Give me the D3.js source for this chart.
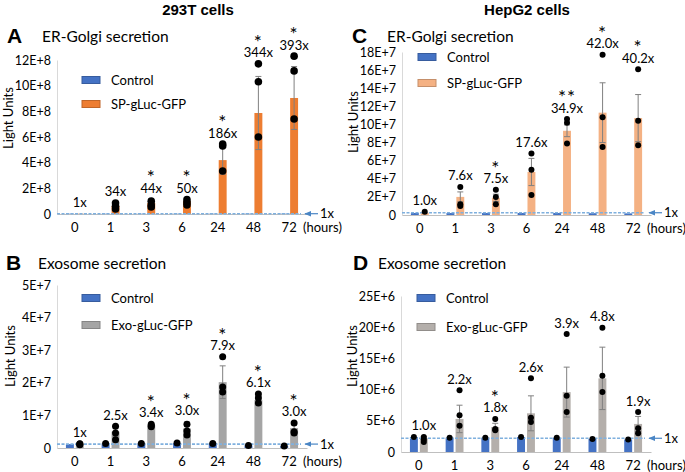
<!DOCTYPE html>
<html>
<head>
<meta charset="utf-8">
<script src="https://cdn.jsdelivr.net/npm/d3@7"></script>
<style>
  body { margin: 0; background: #fff; }
  text { font-family: Lato, "Open Sans", sans-serif; fill: #000; }
</style>
</head>
<body>
<svg id="chart" width="685" height="472"></svg>
<script>
const hours = ['0', '1', '3', '6', '24', '48', '72'];

// A: 293T, ER-Golgi secretion (units of 1E+8)
const ticksA = [0, 2, 4, 6, 8, 10, 12];
const tickLabelsA = ['0', '2E+8', '4E+8', '6E+8', '8E+8', '10E+8', '12E+8'];
const ctrlA = [0.023, 0.02, 0.02, 0.02, 0.022, 0.023, 0.023];
const expA = [0.023, 0.62, 0.86, 1.0, 4.2, 7.87, 9.04];
const errA = [0, 0.2, 0.3, 0.15, 1.1, 2.85, 2.45];
const dotsA = [[], [0.86, 0.61, 0.39], [1.0, 0.7, 0.55], [1.12, 0.9, 0.7], [5.45, 5.3, 3.35], [11.7, 10.3, 6.0], [12.3, 11.15, 7.4]];
const ctrlDotsA = [[], [], [], [], [], [], []];
const foldA = ['1x', '34x', '44x', '50x', '186x', '344x', '393x'];
const starsA = ['', '', '*', '*', '*', '*', '*'];

// B: 293T, exosome secretion (units of 1E+7)
const ticksB = [0, 1, 2, 3, 4, 5];
const tickLabelsB = ['0', '1E+7', '2E+7', '3E+7', '4E+7', '5E+7'];
const ctrlB = [0.12, 0.14, 0.14, 0.15, 0.14, 0.08, 0.06];
const expB = [0.12, 0.5, 0.7, 0.6, 2.02, 1.47, 0.61];
const errB = [0.03, 0.15, 0.05, 0.2, 0.5, 0.1, 0.15];
const dotsB = [[0.13, 0.12, 0.1], [0.67, 0.46, 0.25], [0.73, 0.65, 0.68], [0.73, 0.52, 0.4], [2.8, 1.87, 1.72], [1.66, 1.53, 1.38], [0.77, 0.46, 0.5]];
const ctrlDotsB = [[], [0.14], [0.14], [0.15], [0.14], [0.08], [0.06]];
const foldB = ['1x', '2.5x', '3.4x', '3.0x', '7.9x', '6.1x', '3.0x'];
const starsB = ['', '', '*', '*', '*', '*', '*'];

// C: HepG2, ER-Golgi secretion (units of 1E+7)
const ticksC = [0, 2, 4, 6, 8, 10, 12, 14, 16, 18];
const tickLabelsC = ['0', '2E+7', '4E+7', '6E+7', '8E+7', '10E+7', '12E+7', '14E+7', '16E+7', '18E+7'];
const ctrlC = [0.22, 0.22, 0.22, 0.22, 0.22, 0.2, 0.18];
const expC = [0.25, 2.0, 1.9, 4.75, 9.3, 11.3, 10.7];
const errC = [0, 0.55, 0.4, 1.5, 0.65, 3.3, 2.6];
const dotsC = [[0.35], [3.1, 1.2, 1.0], [2.8, 2.0, 1.2], [6.8, 5.0, 2.2], [10.6, 10.2, 7.9], [17.7, 10.8, 7.5], [16.1, 10.4, 7.7]];
const ctrlDotsC = [[], [], [], [], [], [], []];
const foldC = ['1.0x', '7.6x', '7.5x', '17.6x', '34.9x', '42.0x', '40.2x'];
const starsC = ['', '', '*', '', '**', '*', '*'];

// D: HepG2, exosome secretion (units of 1E+6)
const ticksD = [0, 5, 10, 15, 20, 25];
const tickLabelsD = ['0', '5E+6', '10E+6', '15E+6', '20E+6', '25E+6'];
const ctrlD = [2.4, 2.3, 2.3, 2.4, 2.3, 2.1, 2.0];
const expD = [2.2, 5.3, 4.0, 6.2, 9.6, 11.8, 4.5];
const errD = [0.3, 2.2, 0.6, 2.8, 4.0, 5.0, 1.2];
const dotsD = [[2.4, 1.6, 2.0], [9.9, 5.9, 4.2], [5.3, 3.7, 3.5], [11.8, 5.5, 4.8], [18.9, 9.0, 6.4], [19.9, 12.2, 9.6], [6.4, 3.8, 3.0]];
const ctrlDotsD = [[2.4], [2.3], [2.3], [2.4], [2.3], [2.1], [2.0]];
const foldD = ['1.0x', '2.2x', '1.8x', '2.6x', '3.9x', '4.8x', '1.9x'];
const starsD = ['', '', '*', '', '', '', ''];

const svg = d3.select('#chart');

// left-pointing arrow head for the "1x" pointer
svg.append('defs').append('marker')
  .attr('id', 'arrow')
  .attr('viewBox', '0 0 10 10')
  .attr('refX', 9).attr('refY', 5)
  .attr('markerUnits', 'userSpaceOnUse')
  .attr('markerWidth', 7).attr('markerHeight', 7)
  .attr('orient', 'auto')
  .append('path')
  .attr('d', 'M0,1 L10,5 L0,9 Z')
  .attr('fill', '#4a86c5');

// cell line headers
svg.append('text').attr('x', 198).attr('y', 15).attr('text-anchor', 'middle')
  .style('font-family', '"Liberation Sans", Arial, sans-serif')
  .attr('font-weight', 'bold').attr('font-size', 15).text('293T cells');
svg.append('text').attr('x', 527).attr('y', 15).attr('text-anchor', 'middle')
  .style('font-family', '"Liberation Sans", Arial, sans-serif')
  .attr('font-weight', 'bold').attr('font-size', 15).text('HepG2 cells');

const panel = (p) => {
  const g = svg.append('g');

  const x = d3.scaleBand().domain(hours).range([p.x0, p.x1]);
  const sub = d3.scaleBand()
    .domain(['ctrl', 'exp'])
    .range([0, x.bandwidth()])
    .paddingInner(0.2)
    .paddingOuter(0.9);
  const y = d3.scaleLinear().domain([0, p.yMax]).range([p.yBase, p.yTop]);

  // header
  g.append('text').attr('x', p.letterX).attr('y', p.headY)
    .style('font-family', '"Liberation Sans", Arial, sans-serif')
    .attr('font-weight', 'bold').attr('font-size', 21).text(p.letter);
  g.append('text').attr('x', p.titleX).attr('y', p.headY - 1)
    .attr('font-size', 15.5).text(p.title);

  // axes
  const yAxisG = g.append('g')
    .attr('transform', `translate(${p.x0},0)`)
    .call(d3.axisLeft(y).tickValues(p.ticks)
      .tickFormat((d, i) => p.tickLabels[i])
      .tickSize(0).tickPadding(6));
  yAxisG.attr('font-family', null).attr('font-size', null);
  yAxisG.select('.domain').attr('stroke', '#d9d9d9');
  yAxisG.selectAll('text').attr('font-size', 12.5).attr('fill', '#000');

  const xAxisG = g.append('g')
    .attr('transform', `translate(0,${p.yBase})`)
    .call(d3.axisBottom(x).tickSize(0).tickPadding(9));
  xAxisG.attr('font-family', null).attr('font-size', null);
  xAxisG.select('.domain').attr('stroke', '#bfbfbf');
  xAxisG.selectAll('text').attr('font-size', 13).attr('fill', '#000');
  xAxisG.append('text')
    .attr('x', p.x1 - 4).attr('y', 9).attr('dy', '0.71em')
    .attr('text-anchor', 'start').attr('font-size', 13).text('(hours)');

  g.append('text')
    .attr('transform', `translate(${p.labelX},${p.labelY}) rotate(-90)`)
    .attr('text-anchor', 'middle').attr('dy', '0.35em')
    .attr('font-size', 13).text('Light Units');

  // bars
  const cx = (h, k) => x(h) + sub(k) + sub.bandwidth() / 2;
  g.append('g').selectAll('rect').data(p.ctrl).join('rect')
    .attr('x', (d, i) => x(hours[i]) + sub('ctrl'))
    .attr('y', (d) => y(d))
    .attr('width', sub.bandwidth())
    .attr('height', (d) => p.yBase - y(d))
    .attr('fill', p.ctrlColor);
  g.append('g').selectAll('rect').data(p.exp).join('rect')
    .attr('x', (d, i) => x(hours[i]) + sub('exp'))
    .attr('y', (d) => y(d))
    .attr('width', sub.bandwidth())
    .attr('height', (d) => p.yBase - y(d))
    .attr('fill', p.expColor);

  // error bars
  const eb = g.append('g').attr('stroke', '#808080').attr('stroke-width', 1);
  p.exp.forEach((m, i) => {
    if (!p.err[i]) return;
    const c = cx(hours[i], 'exp');
    const t = y(m + p.err[i]);
    const b = y(Math.max(0, m - p.err[i]));
    eb.append('line').attr('x1', c).attr('x2', c).attr('y1', t).attr('y2', b);
    eb.append('line').attr('x1', c - 3).attr('x2', c + 3).attr('y1', t).attr('y2', t);
    eb.append('line').attr('x1', c - 3).attr('x2', c + 3).attr('y1', b).attr('y2', b);
  });

  // 1x reference line
  const oneY = y(p.exp[0]);
  g.append('line')
    .attr('x1', p.x0).attr('x2', p.x1 - 6)
    .attr('y1', oneY).attr('y2', oneY)
    .attr('stroke', '#7fb0de').attr('stroke-width', 1.6)
    .attr('stroke-dasharray', '3,1.5');
  g.append('line')
    .attr('x1', p.x1 + 11).attr('x2', p.x1 - 2)
    .attr('y1', oneY).attr('y2', oneY)
    .attr('stroke', '#4a86c5').attr('stroke-width', 1.2)
    .attr('marker-end', 'url(#arrow)');
  g.append('text').attr('x', p.x1 + 13).attr('y', oneY).attr('dy', '0.35em')
    .attr('font-size', 13).text('1x');

  // replicate dots
  const dots = [];
  p.dots.forEach((arr, i) => arr.forEach((v) => dots.push({ x: cx(hours[i], 'exp'), v })));
  p.ctrlDots.forEach((arr, i) => arr.forEach((v) => dots.push({ x: cx(hours[i], 'ctrl'), v })));
  g.append('g').selectAll('circle').data(dots).join('circle')
    .attr('cx', (d) => d.x).attr('cy', (d) => y(d.v))
    .attr('r', p.dotR).attr('fill', '#000');

  // fold change labels, significance stars stacked above in the same text
  p.fold.forEach((f, i) => {
    const top = d3.max([p.exp[i] + p.err[i], ...p.dots[i]]);
    const c = cx(hours[i], 'exp');
    const mid = y(top) - 11;
    const label = g.append('text').attr('text-anchor', 'middle');
    if (p.stars[i]) {
      label.append('tspan').attr('x', c).attr('y', mid - 4)
        .attr('font-size', 19).attr('letter-spacing', 1).text(p.stars[i]);
    }
    label.append('tspan').attr('x', c).attr('y', mid + 4.5)
      .attr('font-size', 13).attr('letter-spacing', 0).text(f);
  });

  // legend
  const lg = g.append('g');
  [[p.ctrlColor, 'Control'], [p.expColor, p.expName]].forEach(([col, name], i) => {
    const ly = p.legY + i * p.legStep;
    lg.append('rect').attr('x', p.legX).attr('y', ly - 3.5)
      .attr('width', 18).attr('height', 7)
      .attr('fill', col).attr('stroke', d3.color(col).darker(0.6)).attr('stroke-width', 1);
    lg.append('text').attr('x', p.legX + 29).attr('y', ly).attr('dy', '0.35em')
      .attr('font-size', 13).text(name);
  });
};

panel({
  letter: 'A', letterX: 7, titleX: 42, headY: 43, title: 'ER-Golgi secretion',
  x0: 57, x1: 307, yBase: 214, yTop: 60, yMax: 12,
  ticks: ticksA, tickLabels: tickLabelsA,
  ctrl: ctrlA, exp: expA, err: errA, dots: dotsA, ctrlDots: ctrlDotsA,
  fold: foldA, stars: starsA,
  ctrlColor: '#4472c4', expColor: '#ed7d31', expName: 'SP-gLuc-GFP', dotR: 3.8,
  labelX: 8, labelY: 118, legX: 82, legY: 80, legStep: 24,
});

panel({
  letter: 'B', letterX: 6, titleX: 38, headY: 270, title: 'Exosome secretion',
  x0: 57, x1: 307, yBase: 448, yTop: 285, yMax: 5,
  ticks: ticksB, tickLabels: tickLabelsB,
  ctrl: ctrlB, exp: expB, err: errB, dots: dotsB, ctrlDots: ctrlDotsB,
  fold: foldB, stars: starsB,
  ctrlColor: '#4472c4', expColor: '#a5a5a5', expName: 'Exo-gLuc-GFP', dotR: 3.5,
  labelX: 10, labelY: 356, legX: 82, legY: 298, legStep: 27,
});

panel({
  letter: 'C', letterX: 352, titleX: 387, headY: 43, title: 'ER-Golgi secretion',
  x0: 402, x1: 651, yBase: 215, yTop: 52, yMax: 18,
  ticks: ticksC, tickLabels: tickLabelsC,
  ctrl: ctrlC, exp: expC, err: errC, dots: dotsC, ctrlDots: ctrlDotsC,
  fold: foldC, stars: starsC,
  ctrlColor: '#4472c4', expColor: '#f4b183', expName: 'SP-gLuc-GFP', dotR: 3,
  labelX: 353, labelY: 122, legX: 418, legY: 57, legStep: 26,
});

panel({
  letter: 'D', letterX: 353, titleX: 378, headY: 270, title: 'Exosome secretion',
  x0: 401, x1: 651, yBase: 452, yTop: 296, yMax: 25,
  ticks: ticksD, tickLabels: tickLabelsD,
  ctrl: ctrlD, exp: expD, err: errD, dots: dotsD, ctrlDots: ctrlDotsD,
  fold: foldD, stars: starsD,
  ctrlColor: '#4472c4', expColor: '#b4afab', expName: 'Exo-gLuc-GFP', dotR: 3,
  labelX: 352, labelY: 356, legX: 417, legY: 298, legStep: 29,
});
</script>
</body>
</html>
